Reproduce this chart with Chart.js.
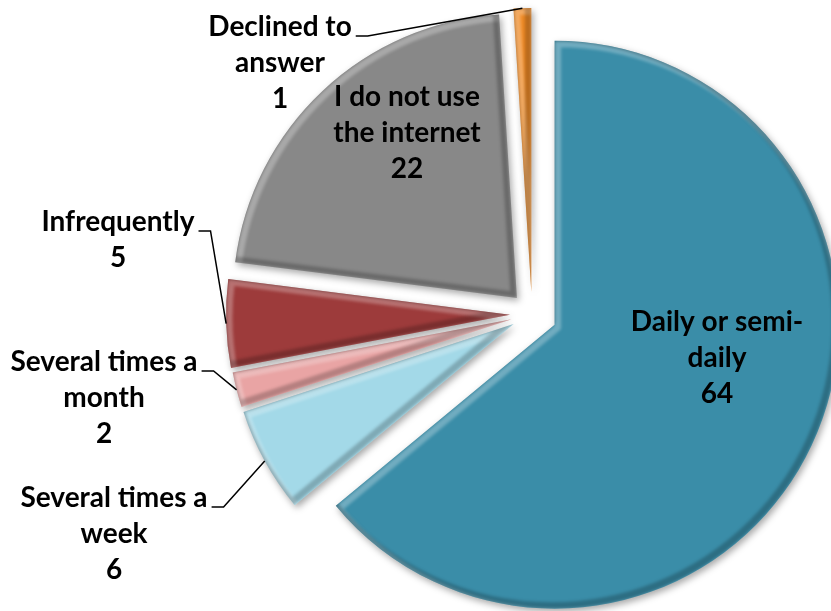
<!DOCTYPE html>
<html>
<head>
<meta charset="utf-8">
<script src="https://cdn.jsdelivr.net/npm/chart.js@4.4.1/dist/chart.umd.min.js"></script>
<style>
  html, body { margin: 0; padding: 0; background: #fff; }
</style>
</head>
<body>
<canvas id="myChart" width="831" height="611"></canvas>
<script>
// internet use frequency, clockwise from 12 o'clock
const categories = [
  "Daily or semi-daily",
  "Several times a week",
  "Several times a month",
  "Infrequently",
  "I do not use the internet",
  "Declined to answer"
];
const counts = [64, 6, 2, 5, 22, 1];
const labelLines = [
  ["Daily or semi-", "daily"],
  ["Several times a", "week"],
  ["Several times a", "month"],
  ["Infrequently"],
  ["I do not use", "the internet"],
  ["Declined to", "answer"]
];

const colors = ["#3a8da8", "#a3d9e8", "#e9a4a4", "#9d3b3b", "#888888", "#ef8a25"];
// how far each slice is pulled out of the pie
const explode = [25, 21, 21, 22, 22, 22];
// centre of first text line for each label, and whether it gets a leader line
const labelPos = [
  { x: 717, y: 322, leader: false },
  { x: 114, y: 498, leader: true },
  { x: 104, y: 362, leader: true },
  { x: 118, y: 222, leader: true },
  { x: 407, y: 97, leader: false },
  { x: 280, y: 27, leader: true }
];
const FONT = "bold 28px Lato";
const LINE_H = 36;

function arcPath(ctx, arc, dx, dy) {
  ctx.beginPath();
  ctx.moveTo(arc.x + dx, arc.y + dy);
  ctx.arc(arc.x + dx, arc.y + dy, arc.outerRadius, arc.startAngle, arc.endAngle);
  ctx.closePath();
}

const explodePlugin = {
  id: "explode",
  afterDatasetUpdate(chart, args) {
    chart.getDatasetMeta(args.index).data.forEach((arc, i) => {
      const mid = (arc.startAngle + arc.endAngle) / 2;
      arc.x += Math.cos(mid) * explode[i];
      arc.y += Math.sin(mid) * explode[i];
    });
  }
};

// drop shadow under the slices plus a soft bevel on their edges
const bevelPlugin = {
  id: "bevel",
  beforeDatasetDraw(chart) {
    const ctx = chart.ctx;
    ctx.save();
    ctx.shadowColor = "rgba(0,0,0,0.35)";
    ctx.shadowBlur = 7;
    ctx.shadowOffsetX = 2;
    ctx.shadowOffsetY = 3;
  },
  afterDatasetDraw(chart, args) {
    const ctx = chart.ctx;
    ctx.restore();
    chart.getDatasetMeta(args.index).data.forEach(arc => {
      ctx.save();
      arcPath(ctx, arc, 0, 0);
      ctx.clip();
      ctx.filter = "blur(1.5px)";
      ctx.lineJoin = "round";
      ctx.lineWidth = 7;
      ctx.strokeStyle = "rgba(255,255,255,0.28)";
      arcPath(ctx, arc, 3, 3);
      ctx.stroke();
      ctx.strokeStyle = "rgba(0,0,0,0.22)";
      arcPath(ctx, arc, -3, -3);
      ctx.stroke();
      ctx.restore();
    });
  }
};

const labelPlugin = {
  id: "sliceLabels",
  afterDraw(chart) {
    const ctx = chart.ctx;
    const arcs = chart.getDatasetMeta(0).data;
    ctx.save();
    ctx.font = FONT;
    ctx.fillStyle = "#000";
    ctx.textAlign = "center";
    ctx.textBaseline = "middle";
    arcs.forEach((arc, i) => {
      const p = labelPos[i];
      const lines = labelLines[i].concat(String(counts[i]));
      lines.forEach((t, k) => ctx.fillText(t, p.x, p.y + k * LINE_H));
      if (!p.leader) return;
      const w = ctx.measureText(lines[0]).width;
      const x0 = p.x + w / 2 + 4;
      const y0 = p.y + 9;
      const mid = (arc.startAngle + arc.endAngle) / 2;
      ctx.beginPath();
      ctx.moveTo(x0, y0);
      ctx.lineTo(x0 + 12, y0);
      ctx.lineTo(arc.x + Math.cos(mid) * arc.outerRadius, arc.y + Math.sin(mid) * arc.outerRadius);
      ctx.lineWidth = 1.5;
      ctx.strokeStyle = "#000";
      ctx.stroke();
    });
    ctx.restore();
  }
};

const ctx = document.getElementById("myChart").getContext("2d");
const chart = new Chart(ctx, {
  type: "pie",
  data: {
    labels: categories,
    datasets: [
      {
        data: counts,
        backgroundColor: colors,
        borderWidth: 0,
        clip: false
      }
    ]
  },
  options: {
    responsive: false,
    animation: false,
    radius: 284,
    layout: { padding: { left: 233, top: 17, right: 0, bottom: 0 } },
    plugins: {
      legend: { display: false },
      tooltip: { enabled: false }
    }
  },
  plugins: [explodePlugin, bevelPlugin, labelPlugin]
});
</script>
</body>
</html>
